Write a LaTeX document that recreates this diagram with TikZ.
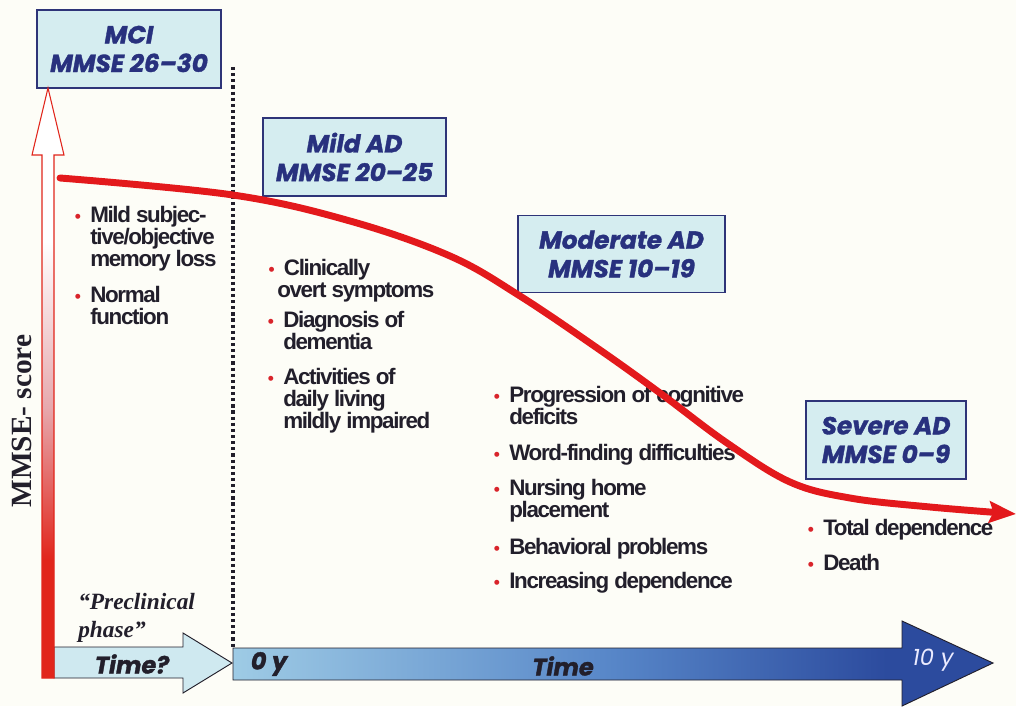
\documentclass[tikz,border=0pt]{standalone}
\usepackage{fontspec}
\setmainfont{Liberation Sans}
\newfontfamily\listfont{Liberation Sans}[LetterSpace=-6]
\newfontfamily\boxfont{Poppins}[BoldItalicFeatures={FakeBold=1.4}]
\newfontfamily\serifont{Liberation Serif}
\usetikzlibrary{arrows.meta}

\definecolor{paper}{HTML}{FDFDF7}
\definecolor{boxfill}{HTML}{D5EDF0}
\definecolor{boxline}{HTML}{2E3478}
\definecolor{boxtext}{HTML}{28317E}
\definecolor{ink}{HTML}{221F2B}
\definecolor{bulred}{HTML}{D9242B}
\definecolor{curvered}{HTML}{E3191C}
\definecolor{axred}{HTML}{E1261C}
\definecolor{axpink}{HTML}{E7A9AE}
\definecolor{timefill}{HTML}{CFE9F0}
\definecolor{tlight}{HTML}{9ECBE5}
\definecolor{tmid}{HTML}{5786C8}
\definecolor{tdark}{HTML}{2C4B9E}

% fading red shaft of the score axis (bottom red, top white)
\pgfdeclareverticalshading{axisfade}{100bp}{color(0bp)=(axred); color(35bp)=(axred);
  color(48bp)=(axpink); color(62bp)=(white); color(100bp)=(white)}
% light-to-dark blue of the time axis
\pgfdeclarehorizontalshading{timefade}{100bp}{color(0bp)=(tlight); color(25bp)=(tlight);
  color(50bp)=(tmid); color(68bp)=(tdark); color(100bp)=(tdark)}

% narrow word spaces for the symptom lists
\newcommand{\tightwords}{\spaceskip=3.8pt plus 1pt minus 0.5pt\relax}
\newcommand{\redbullet}{\tightwords\llap{\textcolor{bulred}{\fontsize{13}{13}\selectfont •}\hspace{7pt}}}

\tikzset{
  stagebox/.style={draw=boxline, line width=1.1pt, fill=boxfill, align=center,
    text=boxtext, inner sep=0pt,
    font=\boxfont\bfseries\itshape\fontsize{18.5}{21.5}\selectfont},
  listitem/.style={anchor=base west, inner sep=0pt, text width=220pt, align=left,
    text=ink, font=\listfont\bfseries\fontsize{16.8}{16.5}\selectfont},
  axislabel/.style={inner sep=0pt, text=ink, font=\boxfont\bfseries\itshape\fontsize{18}{20}\selectfont},
  decline/.style={draw=curvered, line width=5.2pt, line cap=round,
    -{Stealth[length=20pt,width=16pt,inset=3pt]}},
}

\begin{document}
\begin{tikzpicture}[x=0.75pt,y=-0.75pt]
\useasboundingbox (0,0) rectangle (1016,706);
\fill[paper] (0,0) rectangle (1016,706);

% stage boxes
\node[stagebox, minimum width=138pt, minimum height=58.5pt] (mci) at (129,49) {MCI\\MMSE 26–30};
\node[stagebox, minimum width=137pt, minimum height=58.5pt] (mild) at (354.5,157) {Mild AD\\MMSE 20–25};
\node[stagebox, minimum width=155pt, minimum height=57.5pt] (moderate) at (621.5,254) {Moderate AD\\MMSE 10–19};
\node[stagebox, minimum width=120pt, minimum height=58.5pt] (severe) at (886,440) {Severe AD\\MMSE 0–9};

% time axis: uncertain preclinical part and the ten-year course
\path[fill=timefill, draw=ink, line width=0.7pt]
  (54,647) -- (183,647) -- (183,633) -- (232,663) -- (183,693) -- (183,678) -- (54,678) -- cycle;
\path[shading=timefade, draw=ink, line width=0.7pt]
  (233,648) -- (902,648) -- (902,621) -- (993,663) -- (902,706) -- (902,680) -- (233,680) -- cycle;
\node[axislabel] (timeq) at (132,664) {Time?};
\node[axislabel] (zero) at (269,664) {0 y};
\node[axislabel] (time) at (563,666) {Time};
\node[axislabel, text=white!92!blue, font=\boxfont\itshape\fontsize{17}{20}\selectfont] (ten) at (933,660) {10 y};

% score axis
\path[shading=axisfade, draw=axred, line width=0.8pt]
  (42,678) -- (42,155) -- (32,155) -- (48,88) -- (64,155) -- (54,155) -- (54,678) -- cycle;
\node[rotate=90, inner sep=0pt, text=ink, font=\serifont\bfseries\fontsize{22}{24}\selectfont]
  (score) at (22,421) {MMSE- score};

% onset of dementia
\coordinate (onset) at (233,67);
\coordinate (zerotop) at (233,648);
\draw[ink, line width=2.6pt, dash pattern=on 2.4pt off 2.2pt] (onset) -- (zerotop);

\node[anchor=base west, inner sep=0pt, text width=120pt, align=left, text=ink,
  font=\serifont\bfseries\itshape\fontsize{17.5}{21.5}\selectfont]
  (preclin) at (78,609) {“Preclinical\\phase”};

% symptoms per stage
\node[listitem] (m1) at (90,222) {\redbullet Mild subjec-\\tive/objective\\memory loss};
\node[listitem] (m2) at (90,302) {\redbullet Normal\\function};

\node[listitem] (a1) at (277,275) {\hspace*{5pt}\redbullet Clinically\\overt symptoms};
\node[listitem] (a2) at (283,327) {\redbullet Diagnosis of\\dementia};
\node[listitem] (a3) at (283,384) {\redbullet Activities of\\daily living\\mildly impaired};

\node[listitem] (b1) at (509,402) {\redbullet Progression of cognitive\\deficits};
\node[listitem] (b2) at (509,460) {\redbullet Word-finding difficulties};
\node[listitem] (b3) at (509,495) {\redbullet Nursing home\\placement};
\node[listitem] (b4) at (509,554) {\redbullet Behavioral problems};
\node[listitem] (b5) at (509,588) {\redbullet Increasing dependence};

\node[listitem] (c1) at (823,535) {\redbullet Total dependence};
\node[listitem] (c2) at (823,570) {\redbullet Death};

% course of the MMSE score
\draw[decline] plot[smooth, tension=0.6] coordinates {
  (60,178) (233,195) (350,221) (450,256) (520,296) (600,350) (660,393)
  (727,443) (790,482) (850,498) (930,507) (1016,514)};
\end{tikzpicture}
\end{document}
